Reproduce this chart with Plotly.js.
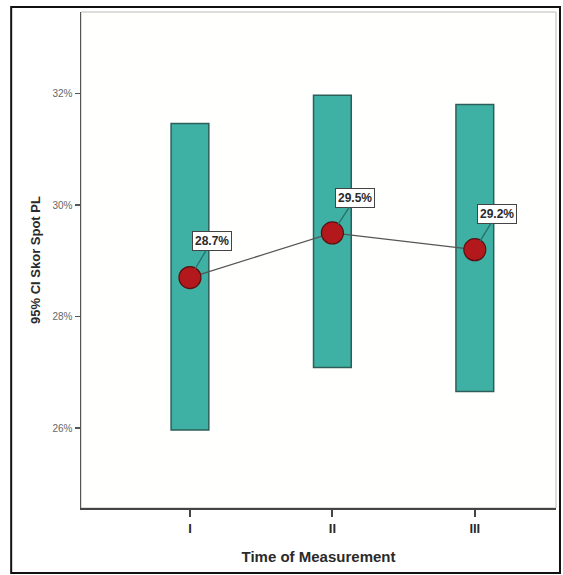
<!DOCTYPE html>
<html>
<head>
<meta charset="utf-8">
<script src="https://cdn.plot.ly/plotly-3.0.1.min.js"></script>
<style>html,body{margin:0;padding:0;background:#fff;}#chart{width:563px;height:575px;}</style>
</head>
<body>
<div id="chart"></div>
<script>
const categories = ['I', 'II', 'III'];
const xPos = [1, 2, 3];
const means = [28.7, 29.5, 29.2];
const ciLow = [25.97, 27.09, 26.66];
const ciHigh = [31.46, 31.97, 31.80];
const meanLabels = ['28.7%', '29.5%', '29.2%'];
const yTicks = [26, 28, 30, 32];
const yTickText = ['26%', '28%', '30%', '32%'];

const barTrace = {
  type: 'bar',
  x: xPos,
  base: ciLow,
  y: ciHigh.map((h, i) => h - ciLow[i]),
  width: 0.265,
  marker: {color: '#3fb0a4', line: {color: '#2d5f5a', width: 1.5}},
  hoverinfo: 'skip',
  showlegend: false
};
const meanTrace = {
  type: 'scatter',
  mode: 'lines+markers',
  x: xPos,
  y: means,
  line: {color: '#555555', width: 1.2},
  marker: {size: 22, color: '#b3191c', line: {color: '#5a1010', width: 1.2}},
  showlegend: false
};
const offsets = [[22, -37], [23, -35], [22, -36]];
const annotations = xPos.map((x, i) => ({
  x: x, y: means[i], xref: 'x', yref: 'y',
  text: '<b>' + meanLabels[i] + '</b>',
  showarrow: true, arrowhead: 0, arrowwidth: 1.3, arrowcolor: '#2a6f68',
  ax: offsets[i][0], ay: offsets[i][1], standoff: 10,
  bgcolor: '#ffffff', bordercolor: '#444444', borderwidth: 1, borderpad: 2,
  font: {family: 'Liberation Sans, Arial, sans-serif', size: 12, color: '#2a2a2a'}
}));

const layout = {
  width: 563, height: 575,
  margin: {l: 81, r: 7, t: 12, b: 67},
  paper_bgcolor: '#ffffff',
  plot_bgcolor: '#fffffd',
  bargap: 0,
  font: {family: 'Liberation Sans, Arial, sans-serif', color: '#333333'},
  xaxis: {
    range: [0.235, 3.57],
    tickmode: 'array', tickvals: xPos, ticktext: categories,
    showgrid: false, zeroline: false,
    showline: true, linecolor: '#444444', linewidth: 2,
    ticks: 'outside', ticklen: 7, tickwidth: 2, tickcolor: '#444444',
    tickfont: {size: 13, color: '#2a2a2a', weight: 'bold'},
    title: {text: '<b>Time of Measurement</b>', font: {size: 15, color: '#2a2a2a'}, standoff: 17}
  },
  yaxis: {
    range: [24.57, 33.46],
    tickmode: 'array', tickvals: yTicks, ticktext: yTickText,
    showgrid: false, zeroline: false,
    showline: true, linecolor: '#555555', linewidth: 1.5,
    ticks: 'outside', ticklen: 5, tickwidth: 1.5, tickcolor: '#555555',
    tickfont: {size: 10, color: '#666666'},
    title: {text: '<b>95% CI Skor Spot PL</b>', font: {size: 13, color: '#2a2a2a'}, standoff: 9}
  },
  shapes: [
    {type: 'rect', xref: 'paper', yref: 'paper', x0: 0, x1: 1, y0: 0, y1: 1,
     line: {color: '#bbbbbb', width: 1}, layer: 'below'},
    {type: 'rect', xref: 'paper', yref: 'paper', x0: -0.147, x1: 1.0084, y0: -0.131, y1: 1.0101,
     line: {color: '#111111', width: 2}}
  ],
  annotations: annotations
};

Plotly.newPlot('chart', [barTrace, meanTrace], layout, {displayModeBar: false, staticPlot: true});
</script>
</body>
</html>
